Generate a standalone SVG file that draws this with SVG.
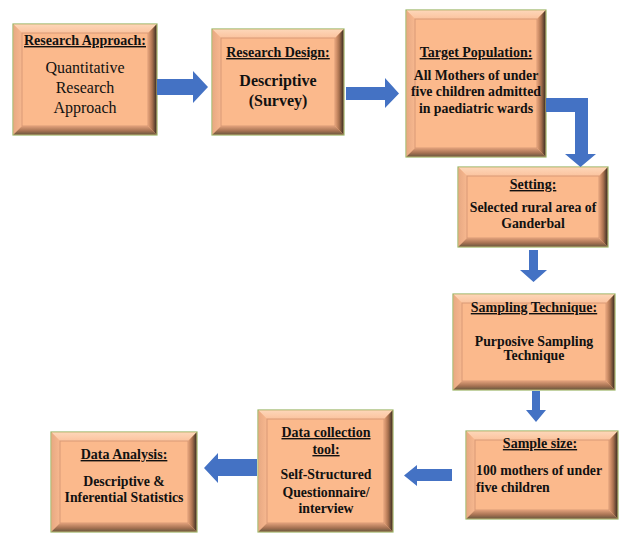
<svg xmlns="http://www.w3.org/2000/svg" width="619" height="533" viewBox="0 0 619 533" font-family="'Liberation Serif', 'Times New Roman', 'DejaVu Serif', serif">
<defs>
<linearGradient id="gR" x1="0" y1="0" x2="1" y2="0"><stop offset="0" stop-color="#E8A47A"/><stop offset="0.5" stop-color="#A9714F"/><stop offset="1" stop-color="#3E3024"/></linearGradient>
<linearGradient id="gB" x1="0" y1="0" x2="0" y2="1"><stop offset="0" stop-color="#E0A07A"/><stop offset="0.6" stop-color="#A57152"/><stop offset="1" stop-color="#6E5A40"/></linearGradient>
<linearGradient id="gL" x1="0" y1="0" x2="1" y2="0"><stop offset="0" stop-color="#E8A983"/><stop offset="1" stop-color="#F7B88F"/></linearGradient>
<linearGradient id="gT" x1="0" y1="0" x2="0" y2="1"><stop offset="0" stop-color="#FDD6B8"/><stop offset="1" stop-color="#FBC39E"/></linearGradient>
</defs>
<style>
.face{fill:#FBB98C;stroke:#9BB565;stroke-width:1.2}
.inner{fill:#FBB98C;stroke:#D99A76;stroke-width:1}
.bt{fill:url(#gT)}.bl{fill:url(#gL)}.br{fill:url(#gR)}.bb{fill:url(#gB)}
text{font-family:'Liberation Serif','Times New Roman','DejaVu Serif',serif;fill:#111;text-anchor:middle}
text.l{text-anchor:start}
.t{font-weight:bold;text-decoration:underline;font-size:14px}
.b{font-weight:bold;font-size:13.8px}
.arr{fill:#4472C4}
</style>

<g id="n1">
<rect class="face" x="13" y="24" width="144" height="111"/>
<polygon class="bt" points="13.6,24.6 156.4,24.6 148,33 22,33"/>
<polygon class="bl" points="13.6,24.6 22,33 22,126 13.6,134.4"/>
<polygon class="br" points="156.4,24.6 156.4,134.4 148,126 148,33"/>
<polygon class="bb" points="13.6,134.4 156.4,134.4 148,126 22,126"/>
<rect class="inner" x="22" y="33" width="126" height="93"/>
<text class="t" x="85" y="45">Research Approach:</text>
<text x="85" y="73" font-size="16">Quantitative</text>
<text x="85" y="93" font-size="16">Research</text>
<text x="85" y="113" font-size="16">Approach</text>
</g>

<g id="n2">
<rect class="face" x="212" y="29" width="132" height="106"/>
<polygon class="bt" points="212.6,29.6 343.4,29.6 335,38 221,38"/>
<polygon class="bl" points="212.6,29.6 221,38 221,126 212.6,134.4"/>
<polygon class="br" points="343.4,29.6 343.4,134.4 335,126 335,38"/>
<polygon class="bb" points="212.6,134.4 343.4,134.4 335,126 221,126"/>
<rect class="inner" x="221" y="38" width="114" height="88"/>
<text class="t" x="278" y="57">Research Design:</text>
<text x="278" y="86" font-size="16" font-weight="bold">Descriptive</text>
<text x="278" y="106" font-size="16" font-weight="bold">(Survey)</text>
</g>

<g id="n3">
<rect class="face" x="406" y="10" width="140" height="147"/>
<polygon class="bt" points="406.6,10.6 545.4,10.6 537,19 415,19"/>
<polygon class="bl" points="406.6,10.6 415,19 415,148 406.6,156.4"/>
<polygon class="br" points="545.4,10.6 545.4,156.4 537,148 537,19"/>
<polygon class="bb" points="406.6,156.4 545.4,156.4 537,148 415,148"/>
<rect class="inner" x="415" y="19" width="122" height="129"/>
<text class="t" x="476" y="57">Target Population:</text>
<text class="b" x="476" y="80" font-size="12.4">All Mothers of under</text>
<text class="b" x="476" y="96" font-size="12.4">five children admitted</text>
<text class="b" x="476" y="113" font-size="12.4">in paediatric wards</text>
</g>

<g id="n4">
<rect class="face" x="458" y="167" width="150" height="80"/>
<polygon class="bt" points="458.6,167.6 607.4,167.6 599,176 467,176"/>
<polygon class="bl" points="458.6,167.6 467,176 467,238 458.6,246.4"/>
<polygon class="br" points="607.4,167.6 607.4,246.4 599,238 599,176"/>
<polygon class="bb" points="458.6,246.4 607.4,246.4 599,238 467,238"/>
<rect class="inner" x="467" y="176" width="132" height="62"/>
<text class="t" x="533" y="189">Setting:</text>
<text class="b" x="533" y="212" font-size="12">Selected rural area of</text>
<text class="b" x="533" y="228" font-size="12">Ganderbal</text>
</g>

<g id="n5">
<rect class="face" x="453" y="294" width="162" height="96"/>
<polygon class="bt" points="453.6,294.6 614.4,294.6 606,303 462,303"/>
<polygon class="bl" points="453.6,294.6 462,303 462,381 453.6,389.4"/>
<polygon class="br" points="614.4,294.6 614.4,389.4 606,381 606,303"/>
<polygon class="bb" points="453.6,389.4 614.4,389.4 606,381 462,381"/>
<rect class="inner" x="462" y="303" width="144" height="78"/>
<text class="t" x="534" y="312">Sampling Technique:</text>
<text class="b" x="534" y="346">Purposive Sampling</text>
<text class="b" x="534" y="360">Technique</text>
</g>

<g id="n6">
<rect class="face" x="466" y="431" width="152" height="88"/>
<polygon class="bt" points="466.6,431.6 617.4,431.6 609,440 475,440"/>
<polygon class="bl" points="466.6,431.6 475,440 475,510 466.6,518.4"/>
<polygon class="br" points="617.4,431.6 617.4,518.4 609,510 609,440"/>
<polygon class="bb" points="466.6,518.4 617.4,518.4 609,510 475,510"/>
<rect class="inner" x="475" y="440" width="134" height="70"/>
<text class="t" x="540" y="448">Sample size:</text>
<text class="b l" x="476" y="475" font-size="14">100 mothers of under</text>
<text class="b l" x="476" y="492" font-size="14">five children</text>
</g>

<g id="n7">
<rect class="face" x="258" y="410" width="135" height="122"/>
<polygon class="bt" points="258.6,410.6 392.4,410.6 384,419 267,419"/>
<polygon class="bl" points="258.6,410.6 267,419 267,523 258.6,531.4"/>
<polygon class="br" points="392.4,410.6 392.4,531.4 384,523 384,419"/>
<polygon class="bb" points="258.6,531.4 392.4,531.4 384,523 267,523"/>
<rect class="inner" x="267" y="419" width="117" height="104"/>
<text class="t" x="326" y="437">Data collection</text>
<text class="t" x="326" y="454">tool:</text>
<text class="b" x="326" y="479">Self-Structured</text>
<text class="b" x="326" y="497">Questionnaire/</text>
<text class="b" x="326" y="513">interview</text>
</g>

<g id="n8">
<rect class="face" x="51" y="432" width="146" height="100"/>
<polygon class="bt" points="51.6,432.6 196.4,432.6 188,441 60,441"/>
<polygon class="bl" points="51.6,432.6 60,441 60,523 51.6,531.4"/>
<polygon class="br" points="196.4,432.6 196.4,531.4 188,523 188,441"/>
<polygon class="bb" points="51.6,531.4 196.4,531.4 188,523 60,523"/>
<rect class="inner" x="60" y="441" width="128" height="82"/>
<text class="t" x="124" y="459">Data Analysis:</text>
<text class="b" x="124" y="486">Descriptive &amp;</text>
<text class="b" x="124" y="502">Inferential Statistics</text>
</g>

<g id="connectors">
<polygon class="arr" points="157,79 193,79 193,71 208,87 193,103 193,95 157,95"/>
<polygon class="arr" points="346,87 385,87 385,78 399,93.5 385,108 385,100 346,100"/>
<polygon class="arr" points="546,98 588,98 588,154 596,154 580.5,167 565,154 575,154 575,112 546,112"/>
<polygon class="arr" points="529,250 538,250 538,270 547,270 533.5,282 520,270 529,270"/>
<polygon class="arr" points="532,391 540,391 540,410 546,410 536,422 526,410 532,410"/>
<polygon class="arr" points="452,469 417,469 417,465 404,475.5 417,486 417,481 452,481"/>
<polygon class="arr" points="257,459 218,459 218,453 204,468 218,483 218,476 257,476"/>
</g>
</svg>
